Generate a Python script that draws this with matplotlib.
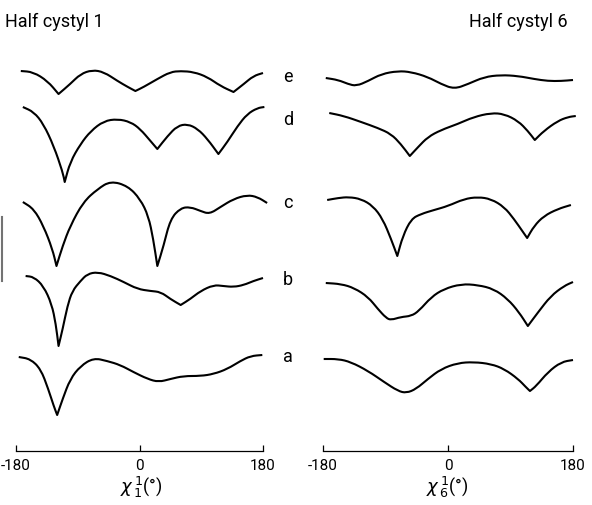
import matplotlib
matplotlib.use("Agg")
import matplotlib.pyplot as plt
from matplotlib.lines import Line2D
from matplotlib.path import Path
from matplotlib.patches import PathPatch

plt.rcParams['font.family'] = ['Roboto', 'DejaVu Sans']

# ---- half cystyl 1 (chi_1^1, degrees) : curve heights ----
c1_e_x = [-173, -155, -134, -118, -101, -86, -69, -52, -32, -17, -6, 6, 26, 45, 60, 79, 99, 118, 137, 152, 166, 180]
c1_e_y = [380, 379, 370, 357, 367, 377, 381, 379, 370, 364, 360, 364, 372, 379, 380, 379, 374, 365, 359, 367, 375, 378]
c1_e_cusp = [3, 10, 18]

c1_d_x = [-170, -154, -140, -125, -112, -109, -101, -86, -71, -52, -32, -13, 1, 16, 26, 41, 55, 70, 85, 99, 115, 128, 143, 157, 172, 182]
c1_d_y = [344, 339, 327, 305, 279, 269, 289, 307, 320, 330, 332, 329, 322, 310, 302, 315, 325, 327, 322, 312, 297, 309, 325, 337, 343, 344]
c1_d_cusp = [5, 14, 20]

c1_c_x = [-170, -154, -140, -127, -121, -112, -101, -82, -61, -42, -17, 1, 13, 20, 26, 35, 45, 60, 74, 89, 102, 118, 137, 157, 172, 186]
c1_c_y = [249, 242, 225, 202, 185, 205, 225, 249, 262, 270, 265, 252, 235, 212, 185, 205, 232, 243, 244, 240, 237, 244, 252, 256, 254, 248]
c1_c_cusp = [4, 14]

c1_b_x = [-166, -154, -140, -128, -122, -118, -112, -105, -98, -86, -76, -61, -42, -23, -3, 16, 31, 45, 60, 74, 89, 108, 122, 137, 152, 166, 180]
c1_b_y = [175, 174, 165, 147, 127, 105, 122, 145, 160, 170, 177, 179, 175, 169, 162, 160, 159, 152, 146, 152, 160, 166, 165, 164, 166, 170, 173]
c1_b_cusp = [5, 18]

c1_a_x = [-176, -159, -144, -133, -125, -120, -112, -101, -86, -67, -47, -28, -9, 12, 28, 45, 64, 89, 108, 128, 147, 162, 179]
c1_a_y = [94, 92, 82, 62, 45, 36, 52, 72, 85, 93, 90, 86, 79, 72, 69, 72, 75, 75, 77, 82, 90, 95, 96]
c1_a_cusp = [5]

# ---- half cystyl 6 (chi_6^1, degrees) ----
c6_e_x = [-176, -158, -144, -132, -115, -96, -72, -53, -29, -10, 9, 29, 52, 76, 101, 124, 144, 163, 180]
c6_e_y = [373, 371, 367, 365, 370, 377, 380, 379, 374, 367, 362, 367, 374, 376, 375, 372, 370, 370, 371]
c6_e_cusp = []

c6_d_x = [-171, -150, -125, -101, -82, -68, -55, -43, -29, -10, 14, 37, 62, 81, 101, 115, 125, 138, 158, 173, 184]
c6_d_y = [338, 335, 329, 323, 317, 307, 295, 304, 314, 321, 327, 334, 338, 337, 330, 320, 311, 320, 330, 334, 335]
c6_d_cusp = [6, 16]

c6_c_x = [-174, -158, -143, -125, -108, -94, -82, -73, -65, -53, -39, -20, 0, 23, 43, 62, 81, 95, 108, 114, 124, 138, 158, 177]
c6_c_y = [251, 253, 254, 252, 245, 232, 212, 195, 215, 232, 237, 241, 245, 252, 254, 252, 244, 232, 219, 213, 225, 235, 242, 246]
c6_c_cusp = [7, 19]

c6_b_x = [-176, -154, -135, -115, -101, -89, -82, -68, -53, -42, -24, -6, 19, 43, 66, 86, 102, 115, 130, 148, 167, 180]
c6_b_y = [168, 167, 163, 154, 142, 133, 131, 134, 135, 140, 154, 162, 167, 166, 162, 152, 139, 125, 139, 155, 165, 169]
c6_b_cusp = [17]

c6_a_x = [-179, -158, -140, -115, -92, -72, -60, -46, -29, -10, 14, 37, 62, 81, 101, 112, 118, 127, 144, 163, 180]
c6_a_y = [92, 92, 89, 80, 69, 60, 58, 62, 72, 82, 88, 89, 87, 82, 72, 64, 60, 65, 79, 89, 91]
c6_a_cusp = [16]

curve_labels = ['e', 'd', 'c', 'b', 'a']
label_y = [375, 332, 249, 172, 95]
tick_vals = [-180, 0, 180]
tick_text = ['-180', '0', '180']


def smooth_path(xs, ys, cusps):
    # quadratic bezier through midpoints, sharp corners at the cusps
    pts = list(zip(xs, ys))
    mid = lambda p, q: ((p[0] + q[0]) / 2.0, (p[1] + q[1]) / 2.0)
    verts = [pts[0], mid(pts[0], pts[1])]
    codes = [Path.MOVETO, Path.LINETO]
    for i in range(1, len(pts) - 1):
        m = mid(pts[i], pts[i + 1])
        verts += [pts[i], m]
        if i in cusps:
            codes += [Path.LINETO, Path.LINETO]
        else:
            codes += [Path.CURVE3, Path.CURVE3]
    verts.append(pts[-1])
    codes.append(Path.LINETO)
    return Path(verts, codes)


fig = plt.figure(figsize=(5.92, 5.06), dpi=100)
W, H = 592.0, 506.0

ax1 = fig.add_axes([16 / W, (H - 452) / H, 247 / W, 392 / H])
ax6 = fig.add_axes([323 / W, (H - 452) / H, 250 / W, 392 / H])

left_curves = [(c1_e_x, c1_e_y, c1_e_cusp), (c1_d_x, c1_d_y, c1_d_cusp), (c1_c_x, c1_c_y, c1_c_cusp),
               (c1_b_x, c1_b_y, c1_b_cusp), (c1_a_x, c1_a_y, c1_a_cusp)]
right_curves = [(c6_e_x, c6_e_y, c6_e_cusp), (c6_d_x, c6_d_y, c6_d_cusp), (c6_c_x, c6_c_y, c6_c_cusp),
                (c6_b_x, c6_b_y, c6_b_cusp), (c6_a_x, c6_a_y, c6_a_cusp)]

for ax, curves in ((ax1, left_curves), (ax6, right_curves)):
    for xs, ys, cusps in curves:
        ax.add_patch(PathPatch(smooth_path(xs, ys, cusps), facecolor='none', edgecolor='black',
                               lw=1.5, joinstyle='round', clip_on=False))
    ax.set_xlim(-180, 180)
    ax.set_ylim(0, 392)
    for s in ('top', 'left', 'right'):
        ax.spines[s].set_visible(False)
    ax.spines['bottom'].set_linewidth(0.9)
    ax.set_yticks([])
    ax.set_xticks(tick_vals)
    ax.set_xticklabels(tick_text)
    ax.tick_params(axis='x', direction='in', length=4, width=0.9, pad=5, labelsize=11)

for lab, yy in zip(curve_labels, label_y):
    ax1.text(216, yy, lab, fontsize=13, ha='center', va='center', clip_on=False)

fig.text(5 / W, 1 - 22 / H, 'Half cystyl 1', fontsize=13, ha='left', va='center')
fig.text(568 / W, 1 - 22 / H, 'Half cystyl 6', fontsize=13, ha='right', va='center')

fig.text(141 / W, 1 - 487 / H, r'$\chi^{\,1}_{\,1}$' + '(°)', fontsize=13, ha='center', va='center')
fig.text(447 / W, 1 - 487 / H, r'$\chi^{\,1}_{\,6}$' + '(°)', fontsize=13, ha='center', va='center')

# small vertical bar on the far left edge
fig.add_artist(Line2D([1.5 / W, 1.5 / W], [1 - 218 / H, 1 - 282 / H], color='0.45', lw=1.5))

fig.savefig('out.png', dpi=100)
